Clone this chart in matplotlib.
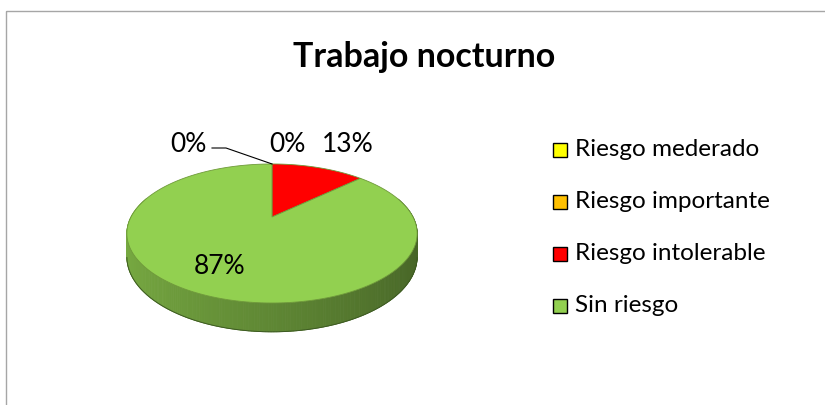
import numpy as np
import matplotlib
matplotlib.use("Agg")
import matplotlib.pyplot as plt
from matplotlib.patches import Polygon, Rectangle
from matplotlib.colors import to_rgb

# data
categorias = ["Riesgo mederado", "Riesgo importante", "Riesgo intolerable", "Sin riesgo"]
valores = [0, 0, 13, 87]
etiquetas = ["0%", "0%", "13%", "87%"]
colores = ["#FFFF00", "#FFC000", "#FF0000", "#92D050"]
titulo = "Trabajo nocturno"

plt.rcParams['font.family'] = ['Lato', 'DejaVu Sans']

fig = plt.figure(figsize=(8.25, 4.05), dpi=100)
ax = fig.add_axes([0, 0, 1, 1])
ax.set_xlim(0, 825)
ax.set_ylim(405, 0)
ax.axis('off')

# chart frame
ax.add_patch(Rectangle((6, 11), 830, 420, fill=False, edgecolor='#a6a6a6', lw=1))

ax.text(424, 57, titulo, ha='center', va='center', fontsize=24.5, fontweight='bold')

# pie geometry (simple perspective tilt)
cx, cy, R, Ry, k, d0 = 272, 217, 141, 65.6, 0.237, 22

def pt(th, r=1.0):
    s = 1.0 / (1.0 + k * np.sin(th) * r)
    return cx + R * r * np.cos(th) * s, cy - Ry * r * np.sin(th) * s

def prof(th):
    return d0 / (1.0 + k * np.sin(th))

total = float(sum(valores))
start = np.pi / 2
angulos = []
for v in valores:
    ext = 2 * np.pi * v / total
    angulos.append((start - ext, start))
    start -= ext

# sides, drawn as thin strips so they can be shaded
for (a0, a1), col in zip(angulos, colores):
    if a1 - a0 <= 0:
        continue
    base = np.array(to_rgb(col))
    ths = np.linspace(a0, a1, 360)
    for t0, t1 in zip(ths[:-1], ths[1:]):
        tm = 0.5 * (t0 + t1)
        if np.sin(tm) > 0.3:
            continue
        x0, y0 = pt(t0)
        x1, y1 = pt(t1)
        # lighter to the left, darker to the right
        f = 0.82 - 0.34 * (np.cos(tm) + 1) / 2
        c = np.clip(base * f, 0, 1)
        ax.add_patch(Polygon([(x0, y0), (x1, y1), (x1, y1 + prof(t1)), (x0, y0 + prof(t0))],
                             closed=True, facecolor=c, edgecolor=c, lw=0.6))

# bottom outline
ths = np.linspace(np.pi + 0.25, 2 * np.pi - 0.25, 200)
bx = [pt(t)[0] for t in ths]
by = [pt(t)[1] + prof(t) for t in ths]
ax.plot(bx, by, color='#3d5a22', lw=0.7)

# top faces
for (a0, a1), col in zip(angulos, colores):
    if a1 - a0 <= 0:
        continue
    ths = np.linspace(a1, a0, 400)
    pts = [(cx, cy)] + [pt(t) for t in ths]
    ax.add_patch(Polygon(pts, closed=True, facecolor=col, edgecolor='#6f9a3a', lw=0.6))

# labels
top = pt(np.pi / 2)
ax.text(188, 145, etiquetas[0], ha='center', va='center', fontsize=19)
ax.plot([212, 226, top[0]], [148, 148, top[1]], color='black', lw=0.8)
ax.text(287, 145, etiquetas[1], ha='center', va='center', fontsize=19)
ax.text(348, 145, etiquetas[2], ha='center', va='center', fontsize=19)
ax.text(220, 267, etiquetas[3], ha='center', va='center', fontsize=19)

# legend
ly = [150, 202, 254, 306]
for nombre, col, y in zip(categorias, colores, ly):
    ax.add_patch(Rectangle((553, y - 7), 14, 14, facecolor=col, edgecolor='black', lw=1))
    ax.text(575, y, nombre, ha='left', va='center', fontsize=17.5)

fig.savefig("out.png", dpi=100)
